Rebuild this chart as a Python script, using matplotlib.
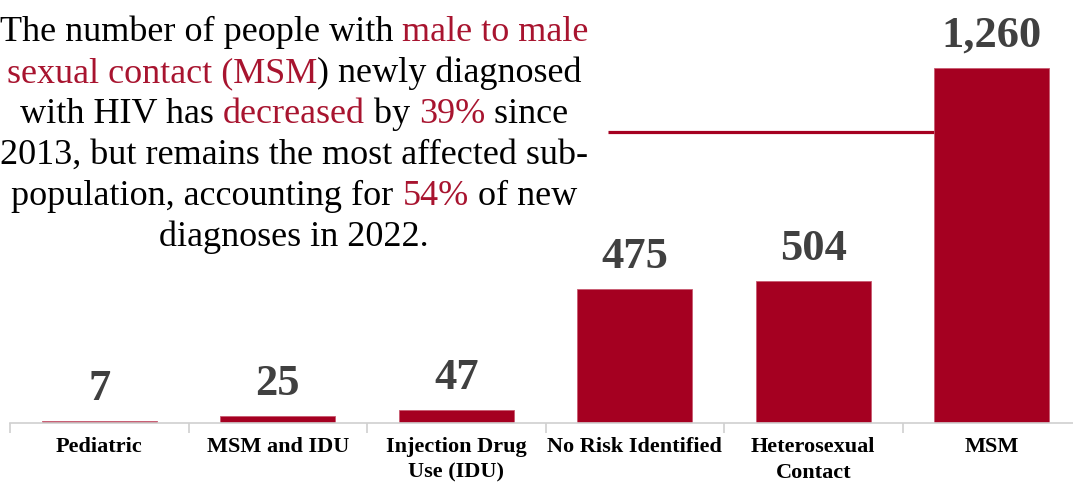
import matplotlib
matplotlib.use("Agg")
import matplotlib.pyplot as plt

categories = ["Pediatric", "MSM and IDU", "Injection Drug\nUse (IDU)",
              "No Risk Identified", "Heterosexual\nContact", "MSM"]
values = [7, 25, 47, 475, 504, 1260]
value_labels = ["7", "25", "47", "475", "504", "1,260"]
reference_line_value = 1033

annotation_lines = [
    [("The number of people with ", "k"), ("male to male", "r")],
    [("sexual contact (MSM", "r"), (") newly diagnosed", "k")],
    [("with HIV has ", "k"), ("decreased", "r"), (" by ", "k"), ("39%", "r"), (" since", "k")],
    [("2013, but remains the most affected sub-", "k")],
    [("population, accounting for ", "k"), ("54%", "r"), (" of new", "k")],
    [("diagnoses in 2022.", "k")],
]

RED = "#A50021"
TXT_RED = "#A8142F"
GRAY = "#404040"

plt.rcParams["font.family"] = ["Liberation Serif", "DejaVu Serif"]

W, H = 1073, 483
fig = plt.figure(figsize=(W / 100, H / 100), dpi=100)
base_y = 423
px_per_unit = 355 / 1260
ymax = 1400
ax_h = ymax * px_per_unit
x_left, x_right = 10, 1081
ax = fig.add_axes([x_left / W, (H - base_y) / H, (x_right - x_left) / W, ax_h / H])

x = list(range(len(categories)))
ax.set_xlim(-0.5, len(categories) - 0.5)
ax.set_ylim(0, ymax)

ax.hlines(reference_line_value, 2.85, 5, color=RED, linewidth=2.3, zorder=1)
ax.bar(x, values, width=0.645, color=RED, edgecolor="#c85a70", linewidth=0.6, zorder=2)

for xi, v, lab in zip(x, values, value_labels):
    ax.annotate(lab, (xi, v), xytext=(0, 12), textcoords="offset pixels",
                ha="center", va="bottom", fontsize=32, fontweight="bold",
                color=GRAY, annotation_clip=False)

for s in ["top", "right", "left"]:
    ax.spines[s].set_visible(False)
ax.spines["bottom"].set_color("#d0d0d0")
ax.spines["bottom"].set_linewidth(1.2)
ax.set_yticks([])
ax.set_xticks(x)
ax.set_xticklabels(categories, fontsize=16, fontweight="bold", linespacing=1.4)
ax.tick_params(axis="x", which="major", length=0, pad=10)
ax.set_xticks([i - 0.5 for i in range(len(categories) + 1)], minor=True)
ax.tick_params(axis="x", which="minor", length=7, color="#d0d0d0", width=1.2)

# annotation block with mixed colours, centred lines
fig.canvas.draw()
renderer = fig.canvas.get_renderer()
center_x = 294
first_baseline = 41
line_step = 41
fs = 26
for i, line in enumerate(annotation_lines):
    texts = []
    widths = []
    for s, c in line:
        t = fig.text(0, 0, s, fontsize=fs, color=(TXT_RED if c == "r" else "black"),
                     ha="left", va="baseline")
        widths.append(t.get_window_extent(renderer).width)
        texts.append(t)
    total = sum(widths)
    start = center_x - total / 2
    yb = first_baseline + i * line_step
    for t, w in zip(texts, widths):
        t.set_position((start / W, (H - yb) / H))
        start += w

fig.savefig("out.png", dpi=100)
